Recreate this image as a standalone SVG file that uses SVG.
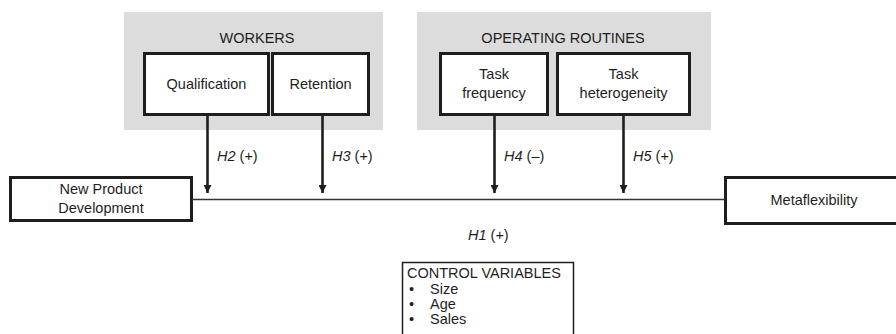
<svg xmlns="http://www.w3.org/2000/svg" width="896" height="334" viewBox="0 0 896 334">
<defs>
<style>
.grp{fill:#dcdcdc;stroke:none}
.box{fill:#fff;stroke:#1e1e1e;stroke-width:3}
.t{font-family:"Liberation Sans",Arial,sans-serif;font-size:14.5px;fill:#1e1e1e}
.m{text-anchor:middle}
.i{font-style:italic}
.arr{stroke:#1e1e1e;stroke-width:2.6;fill:none}
.ln{stroke:#333;stroke-width:1.3;fill:none}
</style>
<marker id="ah" viewBox="0 0 8 8" refX="8" refY="4" markerWidth="8" markerHeight="8" markerUnits="userSpaceOnUse" orient="auto">
<path d="M0,0 L8,4 L0,8 Z" fill="#1e1e1e"/>
</marker>
</defs>
<g id="workers">
<rect class="grp" x="124" y="12" width="259" height="118"/>
<text class="t m" x="257" y="43">WORKERS</text>
</g>
<g id="qualification">
<rect class="box" x="144.5" y="53.5" width="124" height="61"/>
<text class="t m" x="206.5" y="88.5">Qualification</text>
</g>
<g id="retention">
<rect class="box" x="272.5" y="53.5" width="96" height="61"/>
<text class="t m" x="320.5" y="88.5">Retention</text>
</g>
<g id="operating-routines">
<rect class="grp" x="417" y="12" width="294" height="118"/>
<text class="t m" x="563" y="43">OPERATING ROUTINES</text>
</g>
<g id="task-frequency">
<rect class="box" x="440.5" y="53.5" width="107" height="61"/>
<text class="t m" x="494" y="79">Task</text>
<text class="t m" x="494" y="98">frequency</text>
</g>
<g id="task-heterogeneity">
<rect class="box" x="557.5" y="53.5" width="132" height="61"/>
<text class="t m" x="623.5" y="79">Task</text>
<text class="t m" x="623.5" y="98">heterogeneity</text>
</g>
<g id="npd">
<rect class="box" x="10.5" y="177.5" width="181" height="43"/>
<text class="t m" x="101" y="194">New Product</text>
<text class="t m" x="101" y="213">Development</text>
</g>
<g id="metaflexibility">
<rect class="box" x="725.5" y="177.5" width="180" height="46"/>
<text class="t m" x="814" y="205">Metaflexibility</text>
</g>
<g id="control-variables">
<rect x="402.5" y="262.5" width="171" height="80" fill="#fff" stroke="#1e1e1e" stroke-width="1.5"/>
<text class="t" x="407" y="278">CONTROL VARIABLES</text>
<text class="t" x="409" y="294">•</text>
<text class="t" x="430" y="294">Size</text>
<text class="t" x="409" y="309">•</text>
<text class="t" x="430" y="309">Age</text>
<text class="t" x="409" y="324">•</text>
<text class="t" x="430" y="324">Sales</text>
</g>
<g id="connectors">
<line class="ln" x1="192" y1="199.5" x2="725" y2="199.5"/>
<line class="arr" x1="207.5" y1="116" x2="207.5" y2="193" marker-end="url(#ah)"/>
<line class="arr" x1="322.5" y1="116" x2="322.5" y2="193" marker-end="url(#ah)"/>
<line class="arr" x1="494.5" y1="116" x2="494.5" y2="193" marker-end="url(#ah)"/>
<line class="arr" x1="623.5" y1="116" x2="623.5" y2="193" marker-end="url(#ah)"/>
<text class="t" x="217" y="161"><tspan class="i">H2</tspan> (+)</text>
<text class="t" x="332" y="161"><tspan class="i">H3</tspan> (+)</text>
<text class="t" x="504" y="161"><tspan class="i">H4</tspan> (–)</text>
<text class="t" x="633" y="161"><tspan class="i">H5</tspan> (+)</text>
<text class="t" x="468" y="240"><tspan class="i">H1</tspan> (+)</text>
</g>
</svg>
